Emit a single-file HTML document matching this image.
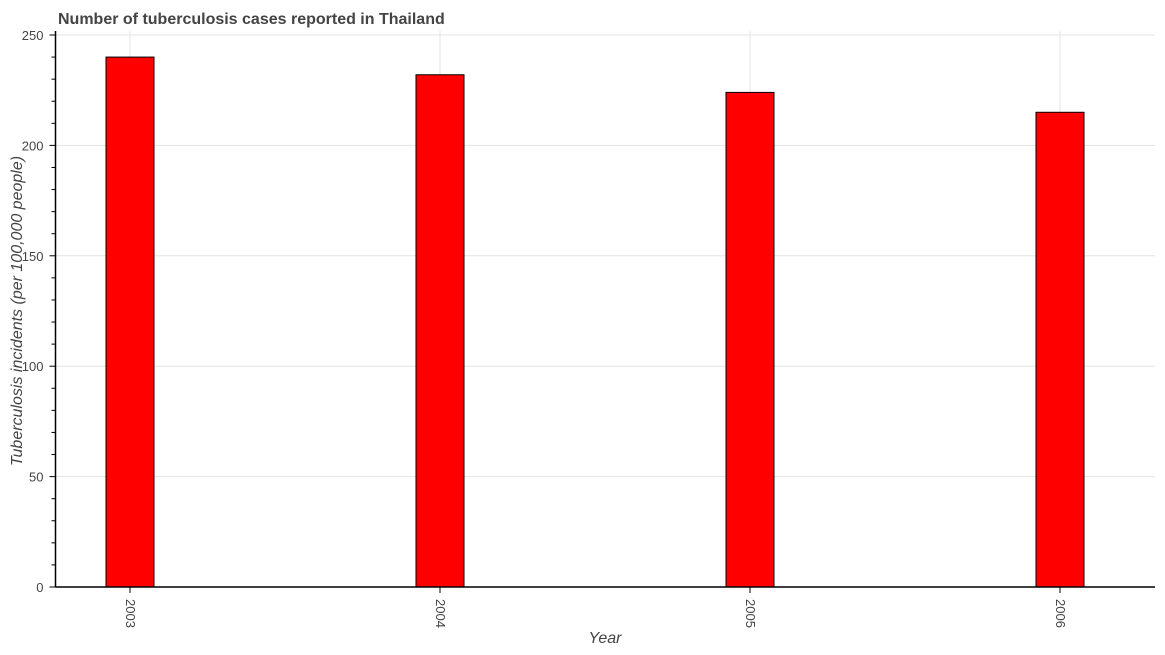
<!DOCTYPE html>
<html><head><meta charset="utf-8"><style>
body{margin:0;background:#fff;font-family:"Liberation Sans",Arial,sans-serif}
</style></head><body>
<svg id="chart" width="1165" height="650" xmlns="http://www.w3.org/2000/svg">
<text x="58" y="24" font-size="16" font-weight="bold" fill="#444">Number of tuberculosis cases reported in Thailand</text>
<g id="grid"></g><g id="bars"></g><g id="axes"></g>
<text x="605" y="643" font-size="16" font-style="italic" fill="#444" text-anchor="middle">Year</text>
<text transform="translate(22,311) rotate(-90)" font-size="16" font-style="italic" fill="#444" text-anchor="middle">Tuberculosis incidents (per 100,000 people)</text>
</svg>
<script>
const categories=["2003","2004","2005","2006"];
const values=[240,232,224,215];
const yTicks=[0,50,100,150,200,250];
const NS="http://www.w3.org/2000/svg";
const x0=55.5,x1=1155,yb=587,yt=35,ymax=250;
const y=v=>yb-(v/ymax)*(yb-yt);
const xc=i=>130+i*310;
function mk(tag,attrs,parent){const e=document.createElementNS(NS,tag);for(const k in attrs)e.setAttribute(k,attrs[k]);document.getElementById(parent).appendChild(e);return e;}
yTicks.forEach(t=>{
 const g=mk("line",{x1:x0,x2:x1,y1:y(t),y2:y(t),stroke:"#e3e3e3","stroke-width":1},"grid");
 
 
 const tk=mk("line",{x1:x0-6,x2:x0,y1:y(t),y2:y(t),stroke:"#000"},"axes");
 
 
 const l=mk("text",{x:x0-12,y:y(t)+5,"font-size":13,fill:"#444","text-anchor":"end"},"axes");
 l.textContent=t;
 
 
});
for(let v=10;v<ymax;v+=10){if(v%50===0)continue;
 const m=mk("line",{x1:x0-4,x2:x0,y1:y(v),y2:y(v),stroke:"#000"},"axes");
 
 
}
categories.forEach((c,i)=>{
 const g=mk("line",{x1:xc(i),x2:xc(i),y1:yt-4,y2:yb,stroke:"#e3e3e3"},"grid");
 
 
 const b=mk("rect",{x:xc(i)-24,y:y(values[i]),width:48,height:yb-y(values[i]),fill:"#ff0000",stroke:"#000","stroke-width":1},"bars");
 
 
 const tk=mk("line",{x1:xc(i),x2:xc(i),y1:yb,y2:yb+6,stroke:"#000"},"axes");
 
 
 const l=mk("text",{transform:`translate(${xc(i)-4},${yb+12}) rotate(90)`,"font-size":13,fill:"#444"},"axes");
 l.textContent=c;
 
 
});
const ax=mk("line",{x1:x0,x2:x0,y1:yt-4,y2:yb,stroke:"#000","stroke-width":1.5},"axes");


const bx=mk("line",{x1:x0,x2:x1,y1:yb,y2:yb,stroke:"#000","stroke-width":1.5},"axes");


</script>
</body></html>
